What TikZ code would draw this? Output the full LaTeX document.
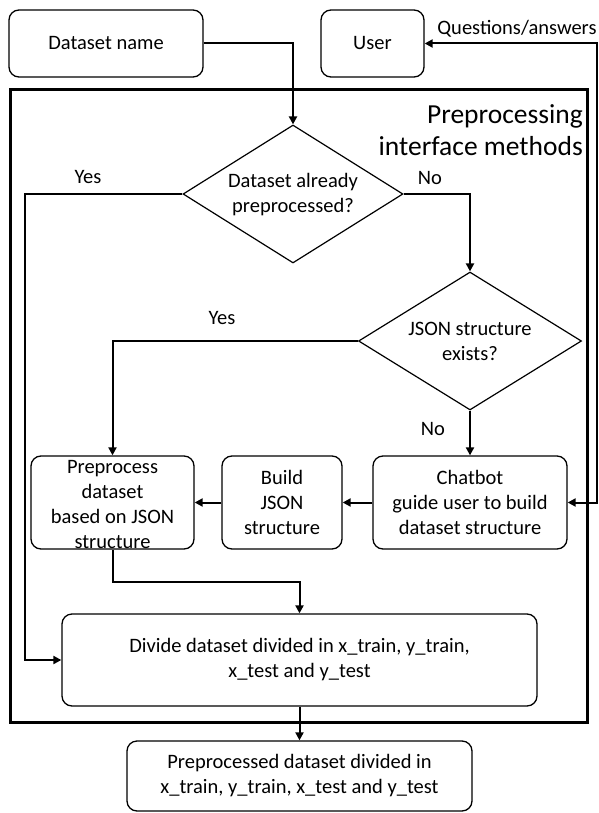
\documentclass[tikz,border=0pt]{standalone}
\usepackage{fontspec}
\setmainfont{Carlito}
\usetikzlibrary{shapes.geometric,arrows.meta}
\begin{document}
\begin{tikzpicture}[x=1pt,y=-1pt,
  font=\fontsize{20.5}{25}\selectfont,
  box/.style={draw,rounded corners=10pt,line width=1.3pt,inner sep=0pt,align=center},
  dec/.style={draw,diamond,line width=1.2pt,inner sep=0pt},
  tipa/.tip={Triangle[length=8pt,width=8pt]},
  conn/.style={line width=2pt,-tipa},
  conn2/.style={line width=2pt,tipa-tipa},
  lbl/.style={inner sep=0pt,align=center},
  frame/.style={draw,line width=3pt,inner sep=0pt}
]
\useasboundingbox (0,0) rectangle (599,813);

% outer frame
\node[frame,minimum width=577,minimum height=632] (frm) at (298.5,406) {};
\node[lbl,anchor=north east,align=right,font=\fontsize{27.5}{32}\selectfont] (title) at (583,104) {Preprocessing\\interface methods};

% top boxes
\node[box,minimum width=194,minimum height=67] (name) at (106,43.5) {Dataset name};
\node[box,minimum width=103,minimum height=67] (user) at (372.5,43.5) {User};

% decisions
\node[dec,minimum width=220,minimum height=138] (d1) at (293,194) {};
\node[lbl] (d1t) at (293,195) {Dataset already\\preprocessed?};
\node[dec,minimum width=223,minimum height=138] (d2) at (470,341) {};
\node[lbl] (d2t) at (470,341) {JSON structure\\exists?};

% process boxes
\node[box,minimum width=163,minimum height=93] (pp) at (112.5,502.5) {};
\node[lbl] (ppt) at (112.5,504) {Preprocess\\dataset\\based on JSON\\structure};
\node[box,minimum width=120,minimum height=93] (build) at (282,502.5) {Build\\JSON\\structure};
\node[box,minimum width=194,minimum height=93] (chat) at (470,502.5) {Chatbot\\guide user to build\\dataset structure};
\node[box,minimum width=475,minimum height=92] (div) at (299.5,660) {Divide dataset divided in x\_train, y\_train,\\x\_test and y\_test};
\node[box,minimum width=345,minimum height=70] (final) at (299.5,776) {Preprocessed dataset divided in\\x\_train, y\_train, x\_test and y\_test};

% labels
\node[lbl] (yes1) at (88,177) {Yes};
\node[lbl] (no1) at (430,178) {No};
\node[lbl] (yes2) at (222,318) {Yes};
\node[lbl] (no2) at (433,429) {No};
\node[lbl] (qa) at (517,29) {Questions/answers};

% helper coordinates
\coordinate (yl) at (25,660);
\coordinate (mid) at (112.5,582);
\coordinate (r1) at (597,43.5);
\coordinate (r2) at (597,502.5);

% connectors
\draw[conn] (name.east) -| (d1.north);
\draw[conn] (d1.east) -| (d2.north);
\draw[conn] (d1.west) -| (yl) -- (div.west);
\draw[conn] (d2.west) -| (pp.north);
\draw[conn] (d2.south) -- (chat.north);
\draw[conn] (chat.west) -- (build.east);
\draw[conn] (build.west) -- (pp.east);
\draw[conn] (pp.south) -- (mid) -| (div.north);
\draw[conn] (div.south) -- (final.north);
\draw[conn2] (user.east) -- (r1) -- (r2) -- (chat.east);
\end{tikzpicture}
\end{document}
